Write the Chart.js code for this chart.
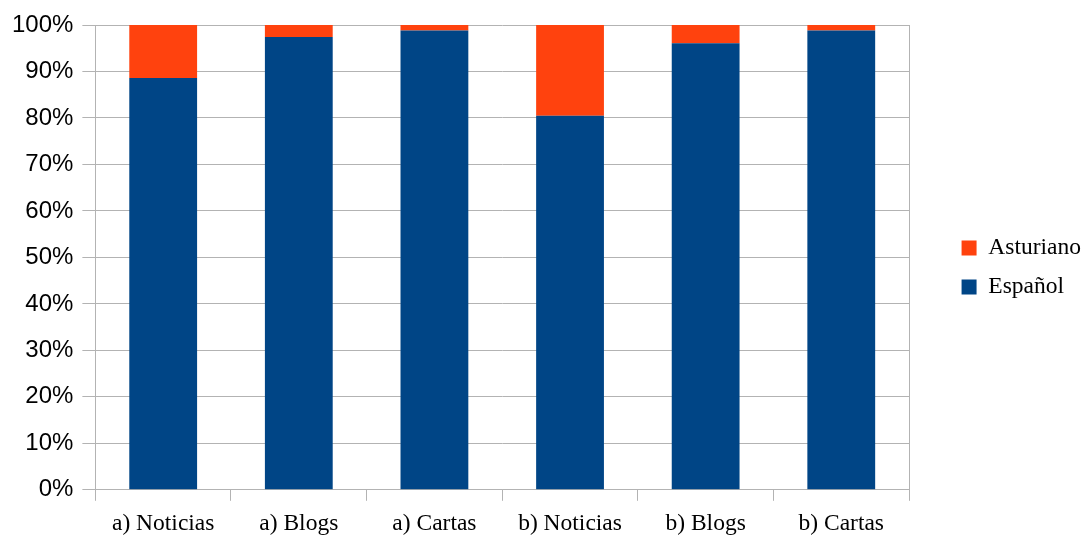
<!DOCTYPE html>
<html>
<head>
<meta charset="utf-8">
<script src="https://cdn.jsdelivr.net/npm/chart.js@4"></script>
<style>
  html, body { margin: 0; padding: 0; background: #ffffff; }
  #wrap { width: 1085px; height: 535px; }
</style>
</head>
<body>
<div id="wrap"><canvas id="c" width="1085" height="535"></canvas></div>
<script>
const categories = ["a) Noticias", "a) Blogs", "a) Cartas", "b) Noticias", "b) Blogs", "b) Cartas"];
const espanol = [88.6, 97.4, 98.8, 80.5, 96.1, 98.8];
const asturiano = [11.4, 2.6, 1.2, 19.5, 3.9, 1.2];
const seriesNames = ["Español", "Asturiano"];
const yTicks = [0, 10, 20, 30, 40, 50, 60, 70, 80, 90, 100];

const gridColor = '#b3b3b3';

new Chart(document.getElementById('c'), {
  type: 'bar',
  data: {
    labels: categories,
    datasets: [
      { label: seriesNames[0], data: espanol, backgroundColor: '#004586', borderWidth: 0 },
      { label: seriesNames[1], data: asturiano, backgroundColor: '#ff420e', borderWidth: 0 }
    ]
  },
  options: {
    responsive: false,
    animation: false,
    devicePixelRatio: 1,
    layout: { padding: { top: 25, left: 3, right: -6, bottom: -12 } },
    datasets: { bar: { barPercentage: 0.5, categoryPercentage: 1.0 } },
    plugins: {
      tooltip: { enabled: false },
      legend: {
        position: 'right',
        fullSize: false,
        reverse: true,
        title: { display: true, text: ' ', font: { size: 5 }, padding: 7 },
        labels: {
          boxWidth: 15,
          boxHeight: 15,
          padding: 15.5,
          color: '#000',
          font: { family: 'Liberation Serif', size: 23.5 }
        }
      }
    },
    scales: {
      x: {
        stacked: true,
        grid: { display: true, drawOnChartArea: false, drawTicks: true, tickLength: 11, color: gridColor, offset: true },
        border: { display: true, color: gridColor },
        ticks: { color: '#000', padding: 9, maxRotation: 0, font: { family: 'Liberation Serif', size: 23.5 } }
      },
      y: {
        stacked: true,
        min: 0,
        max: 100,
        afterBuildTicks: (s) => { s.ticks = yTicks.map(v => ({ value: v })); },
        grid: { color: gridColor, tickLength: 13 },
        border: { display: true, color: gridColor },
        ticks: {
          color: '#000',
          padding: 9,
          font: { family: 'Liberation Sans', size: 24 },
          callback: (v) => v + '%'
        }
      },
      y2: {
        type: 'linear',
        position: 'right',
        display: true,
        grid: { display: false, drawOnChartArea: false },
        border: { display: true, color: gridColor },
        ticks: { display: false },
        afterFit: (s) => { s.width = 37; }
      }
    }
  }
});
</script>
</body>
</html>
